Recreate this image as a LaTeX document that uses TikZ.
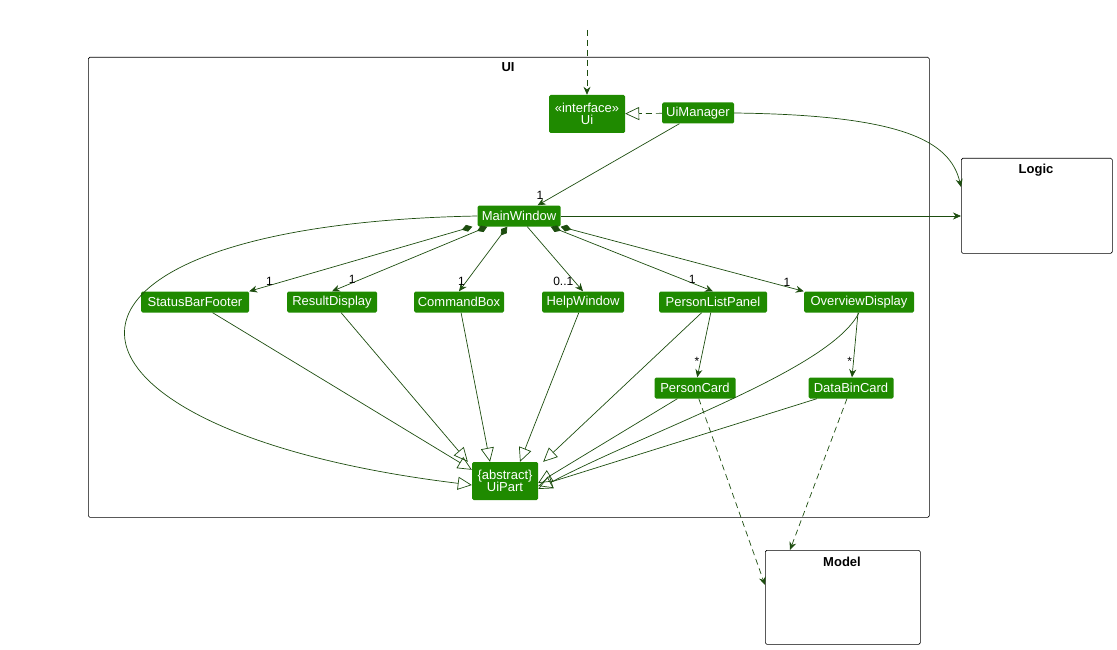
\documentclass[tikz,border=0pt]{standalone}
\usepackage{fontspec}
\setmainfont{Liberation Sans}
\usetikzlibrary{arrows.meta}
\definecolor{cls}{HTML}{1F8A00}
\definecolor{ln}{HTML}{1D4D0F}
\begin{document}
\begin{tikzpicture}[x=1pt,y=-1pt,
 c/.style={fill=cls,text=white,rounded corners=1.5pt,inner sep=2pt,font=\fontsize{13}{14.5}\selectfont,align=center},
 pk/.style={draw=black,rounded corners=1.5pt,line width=0.6pt},
 e/.style={draw=ln,line width=0.7pt},
 d/.style={dash pattern=on 6pt off 4pt},
 a/.style={e,-{Stealth[length=8pt,width=7pt]}},
 inh/.style={e,-{Triangle[open,length=14pt,width=13pt]}},
 comp/.style={e,{Diamond[length=11pt,width=7pt]}-{Stealth[length=8pt,width=7pt]}},
 lb/.style={font=\fontsize{12}{14}\selectfont,text=black,inner sep=1pt},
 tt/.style={font=\bfseries\fontsize{13}{14}\selectfont}]
\useasboundingbox (0,0) rectangle (1117,650);
\node[pk,minimum width=841,minimum height=460,anchor=north west] (pkg) at (88,57) {};
\node[tt] at (508,67) {UI};
\node[pk,minimum width=151,minimum height=95,anchor=north west] (logic) at (961,158) {};
\node[tt] at (1036,170) {Logic};
\node[pk,minimum width=155,minimum height=94,anchor=north west] (model) at (765,550) {};
\node[tt] at (842,562) {Model};

\node[c,minimum width=76,minimum height=38] (ui) at (587,114) {«interface»\\[-3pt]Ui};
\node[c,minimum width=72,minimum height=21] (uim) at (698,113) {UiManager};
\node[c,minimum width=83,minimum height=21] (mw) at (519,216) {MainWindow};
\node[c,minimum width=108,minimum height=21] (sbf) at (195,302) {StatusBarFooter};
\node[c,minimum width=90,minimum height=21] (rd) at (332,302) {ResultDisplay};
\node[c,minimum width=90,minimum height=21] (cb) at (459,302) {CommandBox};
\node[c,minimum width=82,minimum height=21] (hw) at (583,302) {HelpWindow};
\node[c,minimum width=108,minimum height=21] (plp) at (713,302) {PersonListPanel};
\node[c,minimum width=110,minimum height=21] (od) at (859,302) {OverviewDisplay};
\node[c,minimum width=81,minimum height=21] (pc) at (695,388) {PersonCard};
\node[c,minimum width=85,minimum height=21] (dbc) at (851,388) {DataBinCard};
\node[c,minimum width=66,minimum height=38] (up) at (505,481) {\{abstract\}\\[-3pt]UiPart};
\coordinate (top) at (587,30);

\draw[e,d,-{Stealth[length=8pt,width=7pt]}] (top) -- (ui);
\draw[e,d,-{Triangle[open,length=14pt,width=13pt]}] (uim) -- (ui);
\draw[a] (uim) -- (mw) node[lb,pos=0.95,above left] {1};
\draw[a] (uim.east) .. controls (900,115) and (950,140) .. (logic.north west |- 0,187);
\draw[a] (mw) -- (logic.west |- mw);

\draw[comp] (mw.south west) ++(-5,0) -- (sbf.north east) node[lb,pos=0.93,above right] {1};
\draw[comp] ([xshift=10pt]mw.south west) -- (rd.north) node[lb,pos=0.9,above right] {1};
\draw[comp] ([xshift=30pt]mw.south west) -- (cb.north) node[lb,pos=0.85,left] {1};
\draw[a] ([xshift=50pt]mw.south west) -- (hw.north) node[lb,pos=0.85,left] {0..1};
\draw[comp] ([xshift=-10pt]mw.south east) -- (plp.north) node[lb,pos=0.9,above left] {1};
\draw[comp] (mw.south east) -- (od.north west) node[lb,pos=0.95,above left] {1};

\draw[a] (plp) -- (pc) node[lb,pos=0.75,left] {*};
\draw[a] (od) -- (dbc) node[lb,pos=0.75,left] {*};

\draw[inh] (mw.west) .. controls (0,225) and (20,430) .. ([yshift=-4pt]up.west);
\draw[inh] (sbf) -- ([yshift=-8pt]up.north west);
\draw[inh] (rd) -- ([xshift=-4pt]up.north west);
\draw[inh] (cb) -- ([xshift=-15pt]up.north);
\draw[inh] (hw) -- ([xshift=15pt]up.north);
\draw[inh] (plp) -- ([xshift=5pt]up.north east);
\draw[inh] (od.south) .. controls (830,370) and (650,430) .. ([yshift=-8pt]up.east);
\draw[inh] (pc) -- ([yshift=-2pt]up.east);
\draw[inh] (dbc) -- ([yshift=-5pt]up.east);

\draw[e,d,-{Stealth[length=8pt,width=7pt]}] (pc) -- (model.west |- 0,585);
\draw[e,d,-{Stealth[length=8pt,width=7pt]}] (dbc) -- ([xshift=25pt]model.north west);
\end{tikzpicture}
\end{document}
